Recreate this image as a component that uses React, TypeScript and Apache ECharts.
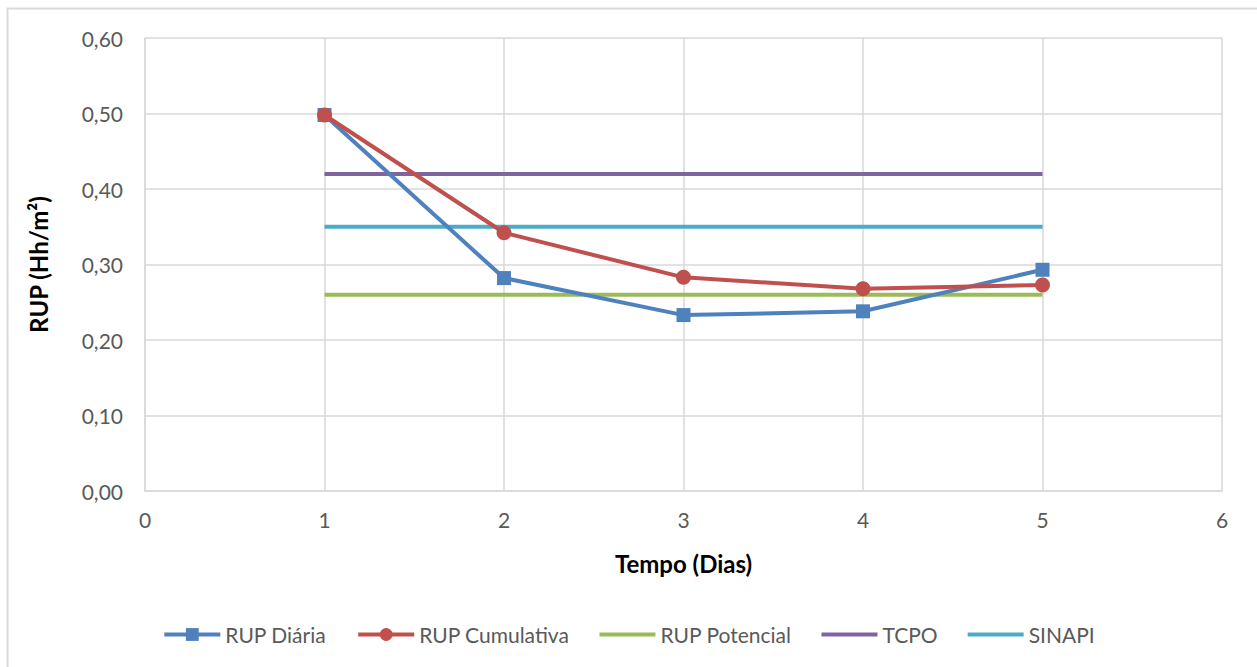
import React, { useEffect, useRef } from "react";
import * as echarts from "echarts";

const days = [1, 2, 3, 4, 5];
const rupDiaria = [0.498, 0.282, 0.233, 0.238, 0.293];
const rupCumulativa = [0.498, 0.342, 0.283, 0.268, 0.273];
const rupPotencial = 0.26;
const tcpo = 0.42;
const sinapi = 0.35;
const refRange = [1, 5];

const FONT = "Lato, 'Open Sans', sans-serif";
const LINE_ICON = "path://M0,0L0.01,0M0,5h56v4h-56zM56,14L55.99,14";

export default function App() {
  const ref = useRef<HTMLDivElement>(null);
  useEffect(() => {
    const chart = echarts.init(ref.current!, null, { renderer: "svg" });
    const flat = (v: number) => refRange.map((x) => [x, v]);
    chart.setOption({
      animation: false,
      backgroundColor: "#fff",
      textStyle: { fontFamily: FONT },
      graphic: [
        {
          type: "polyline",
          shape: { points: [[7.5, 700], [7.5, 8.5], [1300, 8.5]] },
          style: { stroke: "#d9d9d9", lineWidth: 2, fill: null },
          silent: true,
        },
      ],
      grid: { left: 145, right: 35, top: 38, bottom: 176, containLabel: false },
      xAxis: {
        type: "value",
        min: 0,
        max: 6,
        interval: 1,
        name: "Tempo (Dias)",
        nameLocation: "middle",
        nameGap: 60,
        nameTextStyle: { fontSize: 24, fontWeight: "bold", color: "#000", fontFamily: FONT },
        axisLine: { show: true, lineStyle: { color: "#d9d9d9", width: 1.5 } },
        axisTick: { show: false },
        axisLabel: { fontSize: 21, color: "#595959", margin: 18, fontFamily: FONT },
        splitLine: { show: true, lineStyle: { color: "#d9d9d9", width: 1.5 } },
      },
      yAxis: {
        type: "value",
        min: 0,
        max: 0.6,
        interval: 0.1,
        name: "RUP (Hh/m²)",
        nameLocation: "middle",
        nameGap: 95,
        nameTextStyle: { fontSize: 24, fontWeight: "bold", color: "#000", fontFamily: FONT },
        axisLine: { show: true, lineStyle: { color: "#d9d9d9", width: 1.5 } },
        axisTick: { show: false },
        axisLabel: {
          fontSize: 21,
          color: "#595959",
          margin: 22,
          fontFamily: FONT,
          formatter: (v: number) => v.toFixed(2).replace(".", ","),
        },
        splitLine: { show: true, lineStyle: { color: "#d9d9d9", width: 1.5 } },
      },
      legend: {
        top: 619,
        left: "center",
        itemWidth: 56,
        itemHeight: 16,
        itemGap: 30,
        lineStyle: { width: 4 },
        textStyle: { fontSize: 21, color: "#595959", fontFamily: FONT },
        data: [
          { name: "RUP Diária" },
          { name: "RUP Cumulativa" },
          { name: "RUP Potencial", icon: LINE_ICON },
          { name: "TCPO", icon: LINE_ICON },
          { name: "SINAPI", icon: LINE_ICON },
        ],
      },
      series: [
        {
          name: "RUP Potencial",
          type: "line",
          data: flat(rupPotencial),
          symbol: "none",
          lineStyle: { color: "#9bbb59", width: 4 },
          itemStyle: { color: "#9bbb59" },
          z: 2,
        },
        {
          name: "TCPO",
          type: "line",
          data: flat(tcpo),
          symbol: "none",
          lineStyle: { color: "#8064a2", width: 4 },
          itemStyle: { color: "#8064a2" },
          z: 2,
        },
        {
          name: "SINAPI",
          type: "line",
          data: flat(sinapi),
          symbol: "none",
          lineStyle: { color: "#4bacc6", width: 4 },
          itemStyle: { color: "#4bacc6" },
          z: 2,
        },
        {
          name: "RUP Diária",
          type: "line",
          data: days.map((d, i) => [d, rupDiaria[i]]),
          symbol: "rect",
          symbolSize: 14,
          lineStyle: { color: "#4f81bd", width: 4 },
          itemStyle: { color: "#4f81bd" },
          z: 3,
        },
        {
          name: "RUP Cumulativa",
          type: "line",
          data: days.map((d, i) => [d, rupCumulativa[i]]),
          symbol: "circle",
          symbolSize: 15,
          lineStyle: { color: "#c0504d", width: 4 },
          itemStyle: { color: "#c0504d" },
          z: 4,
        },
      ],
    });
    return () => chart.dispose();
  }, []);
  return (
    <div
      ref={ref}
      style={{ position: "absolute", left: 0, top: 0, width: 1257, height: 667 }}
    />
  );
}
